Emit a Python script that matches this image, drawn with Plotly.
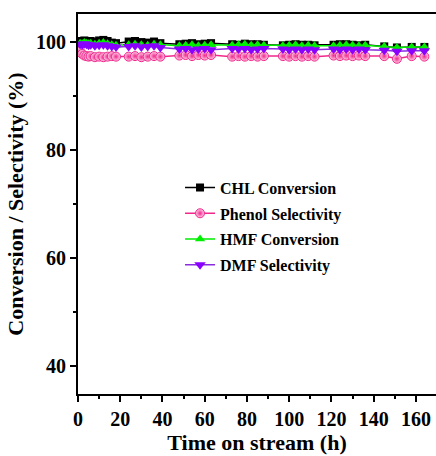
import plotly.graph_objects as go

times = [1, 2, 3, 4, 5, 6, 8, 10, 12, 14, 16, 18,
         24, 27, 30, 33, 36, 39,
         48, 51, 54, 57, 60, 63,
         73, 76, 79, 82, 85, 88,
         97, 100, 103, 106, 109, 112,
         121, 124, 127, 130, 133, 136,
         145, 151, 158, 164]

chl_conv = [100.2, 100.1, 100.3, 100.2, 100.1, 100.2, 100.0, 100.3, 100.4, 100.2, 99.9, 99.8,
            100.1, 100.2, 100.0, 99.9, 100.1, 99.8,
            99.6, 99.7, 99.8, 99.6, 99.7, 99.8,
            99.6, 99.5, 99.7, 99.6, 99.6, 99.5,
            99.4, 99.5, 99.6, 99.5, 99.5, 99.4,
            99.5, 99.6, 99.6, 99.5, 99.4, 99.5,
            99.2, 99.0, 99.1, 99.1]

phenol_sel = [98.2, 97.8, 97.5, 97.4, 97.3, 97.4, 97.2, 97.3, 97.2, 97.3, 97.4, 97.3,
              97.3, 97.4, 97.2, 97.3, 97.4, 97.3,
              97.5, 97.6, 97.4, 97.6, 97.5, 97.6,
              97.3, 97.4, 97.3, 97.4, 97.3, 97.4,
              97.4, 97.3, 97.4, 97.3, 97.4, 97.3,
              97.5, 97.4, 97.5, 97.4, 97.5, 97.4,
              97.4, 96.9, 97.4, 97.3]

hmf_conv = [99.8, 99.7, 99.9, 99.8, 99.7, 99.8, 99.6, 99.8, 99.9, 99.7, 99.5, 99.4,
            99.5, 99.6, 99.5, 99.4, 99.6, 99.5,
            99.3, 99.4, 99.5, 99.3, 99.4, 99.5,
            99.4, 99.5, 99.6, 99.4, 99.5, 99.4,
            99.3, 99.4, 99.5, 99.3, 99.4, 99.3,
            99.3, 99.4, 99.5, 99.4, 99.3, 99.4,
            99.2, 99.0, 99.1, 99.1]

dmf_sel = [99.6, 99.5, 99.7, 99.6, 99.4, 99.5, 99.3, 99.4, 99.5, 99.3, 99.2, 99.1,
           99.2, 99.3, 99.1, 99.2, 99.3, 99.0,
           98.7, 98.8, 98.6, 98.7, 98.8, 98.6,
           98.8, 98.7, 98.8, 98.6, 98.7, 98.8,
           98.7, 98.6, 98.7, 98.6, 98.7, 98.6,
           98.7, 98.6, 98.7, 98.6, 98.7, 98.6,
           98.5, 98.3, 98.4, 98.4]

FONT = "Liberation Serif, Times New Roman, serif"

fig = go.Figure()
fig.add_trace(go.Scatter(x=times, y=chl_conv, name="CHL Conversion", mode="lines+markers",
                         legendgroup="a",
                         line=dict(color="#000000", width=1.5),
                         marker=dict(symbol="square", size=8, color="#000000")))
fig.add_trace(go.Scatter(x=times, y=phenol_sel, name="Phenol Selectivity", mode="lines+markers",
                         legendgroup="b",
                         line=dict(color="#F0288C", width=1.5),
                         marker=dict(symbol="circle", size=9, color="#FFD0E8",
                                     gradient=dict(type="radial", color="#F0288C"),
                                     line=dict(color="#F0288C", width=1))))
fig.add_trace(go.Scatter(x=times, y=hmf_conv, name="HMF Conversion", mode="lines+markers",
                         legendgroup="c",
                         line=dict(color="#00EE00", width=1.5),
                         marker=dict(symbol="triangle-up", size=9, color="#00EE00")))
fig.add_trace(go.Scatter(x=times, y=dmf_sel, name="DMF Selectivity", mode="lines+markers",
                         legendgroup="d",
                         line=dict(color="#8A2BE2", width=1.5),
                         marker=dict(symbol="triangle-down", size=10, color="#8A00FF")))

fig.update_layout(
    width=436, height=456,
    margin=dict(l=78, r=0, t=14, b=62),
    plot_bgcolor="white", paper_bgcolor="white",
    font=dict(family=FONT, color="black", weight="bold"),
    legend=dict(x=0.285, y=0.588, xanchor="left", yanchor="top",
                bgcolor="rgba(0,0,0,0)", tracegroupgap=2,
                font=dict(family=FONT, size=16, weight="bold")),
    showlegend=True,
)
fig.update_xaxes(
    range=[0, 169.5], showgrid=False, zeroline=False,
    showline=True, linecolor="black", linewidth=2, mirror=True,
    ticks="outside", ticklen=6, tickwidth=2, tickcolor="black",
    tick0=0, dtick=20,
    minor=dict(ticks="outside", ticklen=3, tickwidth=2, tickcolor="black", dtick=10, tick0=0),
    tickfont=dict(family=FONT, size=20, weight="bold"),
    title=dict(text="Time on stream (h)", standoff=2,
               font=dict(family=FONT, size=22, weight="bold")),
)
fig.update_yaxes(
    range=[34.8, 105.2], showgrid=False, zeroline=False,
    showline=True, linecolor="black", linewidth=2, mirror=False,
    ticks="outside", ticklen=6, tickwidth=2, tickcolor="black",
    tick0=40, dtick=20,
    minor=dict(ticks="outside", ticklen=3, tickwidth=2, tickcolor="black", dtick=10, tick0=0),
    tickfont=dict(family=FONT, size=20, weight="bold"),
    title=dict(text="Conversion / Selectivity (%)", standoff=6,
               font=dict(family=FONT, size=22, weight="bold")),
)

fig.write_html("out.html")
